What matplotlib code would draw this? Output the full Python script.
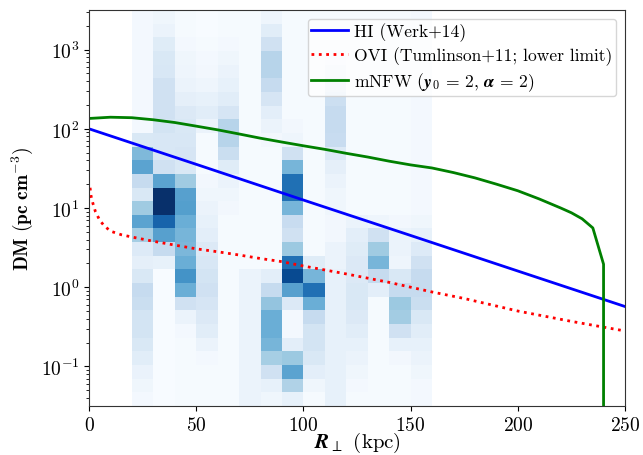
import numpy as np
import matplotlib
matplotlib.use('Agg')
import matplotlib.pyplot as plt
import matplotlib.ticker as mticker

plt.rcParams['font.family'] = 'serif'
plt.rcParams['font.serif'] = ['cmr10', 'DejaVu Serif']
plt.rcParams['mathtext.fontset'] = 'cm'
plt.rcParams['axes.formatter.use_mathtext'] = True
plt.rcParams['axes.unicode_minus'] = False

# 2D histogram of sightlines: x bins (kpc), log-spaced DM bins
R_EDGES = [20, 30, 40, 50, 60, 70, 80, 90, 100, 110, 120, 130, 140, 150, 160]
DM_EDGES = np.logspace(-1.5, 3.5, 30)

# relative counts per R bin, listed from the lowest DM bin to the highest
col_20 = [0.02, 0.04, 0.07, 0.11, 0.15, 0.18, 0.18, 0.23, 0.25, 0.15, 0.09, 0.13, 0.35, 0.55, 0.37,
          0.15, 0.25, 0.55, 0.45, 0.15, 0.02, 0.02, 0.02, 0.02, 0.02, 0.02, 0.02, 0.02, 0.02]
col_30 = [0.0, 0.0, 0.0, 0.0, 0.0, 0.0, 0.0, 0.0, 0.0, 0.0, 0.08, 0.25, 0.56, 0.8, 1.0,
          1.0, 0.55, 0.2, 0.16, 0.16, 0.18, 0.2, 0.2, 0.2, 0.16, 0.15, 0.12, 0.06, 0.04]
col_40 = [0.01, 0.01, 0.01, 0.01, 0.01, 0.02, 0.06, 0.2, 0.5, 0.62, 0.5, 0.46, 0.47, 0.5, 0.57,
          0.56, 0.37, 0.15, 0.17, 0.16, 0.15, 0.14, 0.09, 0.06, 0.05, 0.04, 0.02, 0.01, 0.01]
col_50 = [0.01, 0.01, 0.01, 0.02, 0.06, 0.11, 0.14, 0.17, 0.2, 0.18, 0.16, 0.14, 0.1, 0.08, 0.06,
          0.04, 0.03, 0.01, 0.01, 0.01, 0.06, 0.11, 0.08, 0.05, 0.03, 0.02, 0.01, 0.0, 0.0]
col_60 = [0.01, 0.01, 0.01, 0.01, 0.01, 0.01, 0.01, 0.01, 0.01, 0.01, 0.01, 0.01, 0.01, 0.01, 0.03,
          0.04, 0.06, 0.12, 0.23, 0.3, 0.3, 0.17, 0.11, 0.08, 0.06, 0.04, 0.02, 0.01, 0.01]
col_70 = [0.06, 0.06, 0.06, 0.06, 0.06, 0.06, 0.06, 0.06, 0.06, 0.06, 0.01, 0.01, 0.01, 0.01, 0.01,
          0.01, 0.01, 0.01, 0.01, 0.01, 0.01, 0.01, 0.01, 0.01, 0.01, 0.01, 0.01, 0.01, 0.01]
col_80 = [0.04, 0.08, 0.2, 0.35, 0.47, 0.5, 0.5, 0.4, 0.25, 0.1, 0.01, 0.01, 0.01, 0.01, 0.01,
          0.01, 0.01, 0.01, 0.01, 0.03, 0.06, 0.1, 0.17, 0.25, 0.3, 0.3, 0.2, 0.11, 0.05]
col_90 = [0.08, 0.32, 0.55, 0.38, 0.1, 0.02, 0.02, 0.14, 0.56, 0.9, 0.75, 0.38, 0.2, 0.24, 0.47,
          0.75, 0.75, 0.47, 0.2, 0.05, 0.03, 0.01, 0.01, 0.01, 0.01, 0.01, 0.01, 0.01, 0.01]
col_100 = [0.01, 0.04, 0.1, 0.15, 0.18, 0.18, 0.25, 0.5, 0.75, 0.47, 0.12, 0.01, 0.01, 0.01, 0.01,
           0.01, 0.01, 0.01, 0.01, 0.01, 0.01, 0.01, 0.01, 0.01, 0.01, 0.01, 0.01, 0.01, 0.01]
col_110 = [0.08, 0.08, 0.08, 0.08, 0.08, 0.08, 0.08, 0.08, 0.08, 0.08, 0.06, 0.06, 0.03, 0.03, 0.04,
           0.04, 0.06, 0.09, 0.14, 0.24, 0.25, 0.25, 0.22, 0.18, 0.1, 0.05, 0.01, 0.01, 0.01]
col_120 = [0.01, 0.02, 0.04, 0.06, 0.08, 0.11, 0.14, 0.15, 0.15, 0.14, 0.14, 0.12, 0.1, 0.06, 0.01,
           0.01, 0.01, 0.01, 0.01, 0.01, 0.01, 0.01, 0.01, 0.01, 0.01, 0.01, 0.01, 0.01, 0.01]
col_130 = [0.01, 0.01, 0.01, 0.01, 0.01, 0.01, 0.01, 0.01, 0.1, 0.25, 0.47, 0.37, 0.2, 0.05, 0.01,
           0.01, 0.01, 0.01, 0.01, 0.01, 0.01, 0.01, 0.01, 0.01, 0.01, 0.01, 0.01, 0.01, 0.01]
col_140 = [0.01, 0.01, 0.01, 0.03, 0.08, 0.2, 0.36, 0.38, 0.25, 0.15, 0.05, 0.06, 0.06, 0.03, 0.01,
           0.01, 0.01, 0.01, 0.01, 0.01, 0.01, 0.01, 0.01, 0.01, 0.01, 0.01, 0.01, 0.01, 0.01]
col_150 = [0.02, 0.02, 0.04, 0.06, 0.08, 0.11, 0.15, 0.23, 0.25, 0.25, 0.2, 0.13, 0.08, 0.04, 0.02,
           0.02, 0.02, 0.02, 0.02, 0.02, 0.02, 0.02, 0.02, 0.02, 0.02, 0.02, 0.02, 0.02, 0.02]

# HI (Werk+14)
R_HI = [0, 50, 100, 150, 200, 250]
DM_HI = [100, 35.6, 12.6, 4.5, 1.6, 0.57]

# OVI (Tumlinson+11; lower limit)
R_OVI = [0.5, 1, 2, 3, 5, 7, 10, 15, 20, 30, 40, 50, 60, 70, 80, 90, 100, 110, 120, 130,
         140, 150, 160, 175, 200, 225, 250]
DM_OVI = [18, 14, 11, 9, 7, 6, 5.1, 4.6, 4.3, 3.8, 3.4, 3.05, 2.8, 2.55, 2.3, 2.1, 1.85,
          1.65, 1.47, 1.3, 1.15, 1.0, 0.87, 0.72, 0.5, 0.37, 0.28]

# mNFW (y0 = 2, alpha = 2)
R_NFW = [0, 10, 20, 30, 40, 50, 60, 70, 80, 90, 100, 110, 120, 130, 140, 150, 160, 170,
         180, 190, 200, 210, 220, 225, 230, 235, 240, 240]
DM_NFW = [135, 140, 138, 130, 120, 108, 97, 86, 76, 68, 61, 55, 49, 44, 39, 35, 32, 28,
          24, 20, 16.5, 13, 10, 8.7, 7.3, 5.6, 1.95, 0.001]

counts = np.array([col_20, col_30, col_40, col_50, col_60, col_70, col_80, col_90,
                   col_100, col_110, col_120, col_130, col_140, col_150]).T

fig = plt.figure(figsize=(6.43, 4.56), dpi=100)
ax = fig.add_axes([0.1384, 0.1075, 0.8336, 0.8684])

ax.pcolormesh(R_EDGES, DM_EDGES, counts, cmap='Blues', vmin=0, vmax=1)

ax.plot(R_HI, DM_HI, color='b', lw=2, label='HI (Werk+14)')
ax.plot(R_OVI, DM_OVI, color='r', lw=2, ls=':', label='OVI (Tumlinson+11; lower limit)')
ax.plot(R_NFW, DM_NFW, color='g', lw=2,
        label=r'mNFW ($\mathbfit{y}_\mathbf{0}\mathbf{\,=\,2,\,}\mathbfit{\alpha}\mathbf{\,=\,2}$)')

ax.set_yscale('log')
ax.set_xlim(0, 250)
ax.set_ylim(10 ** -1.5, 10 ** 3.5)

ax.xaxis.set_major_locator(mticker.MultipleLocator(50))
ax.xaxis.set_major_formatter(mticker.FuncFormatter(lambda v, p: r'$\mathbf{%d}$' % v))
ax.yaxis.set_major_locator(mticker.LogLocator(base=10, numticks=10))
ax.yaxis.set_minor_locator(mticker.LogLocator(base=10, subs=np.arange(2, 10), numticks=20))
ax.yaxis.set_minor_formatter(mticker.NullFormatter())
ax.yaxis.set_major_formatter(mticker.FuncFormatter(
    lambda v, p: r'$\mathbf{10^{%d}}$' % int(round(np.log10(v)))))
ax.tick_params(labelsize=14)

for s in ax.spines.values():
    s.set_color('#333333')

ax.set_xlabel(r'$\mathbfit{R}_{\perp}$ (kpc)', fontsize=15, labelpad=-3)
ax.set_ylabel(r'$\mathbf{DM\ (pc\ cm^{-3})}$', fontsize=14)

ax.legend(loc='upper right', fontsize=12.6, handlelength=2.1, borderpad=0.2,
          labelspacing=0.3, handletextpad=0.35, borderaxespad=0.5)

fig.savefig('out.png', dpi=100)
